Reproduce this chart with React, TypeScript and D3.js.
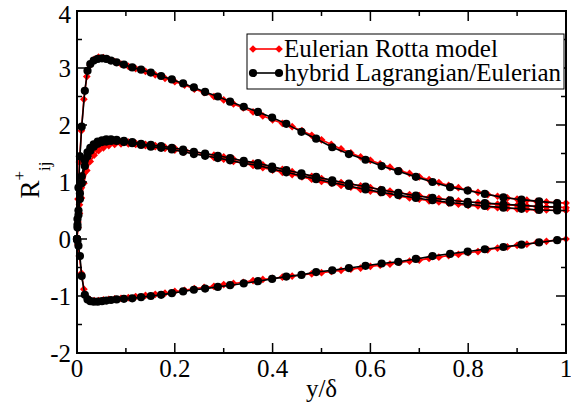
import * as d3 from "d3";

// wall-normal positions (hybrid run is on a stretched grid, Rotta model on a finer one)
const xBlack = [0, 0.001, 0.003, 0.006, 0.0096, 0.016, 0.0215, 0.0272, 0.0342, 0.0423, 0.0511, 0.0599, 0.0695, 0.081, 0.096,
  0.113, 0.131, 0.151, 0.172, 0.194, 0.217, 0.239, 0.262, 0.288, 0.313, 0.341, 0.370, 0.399, 0.428, 0.459,
  0.489, 0.522, 0.556, 0.590, 0.623, 0.657, 0.693, 0.727, 0.763, 0.799, 0.834, 0.872, 0.909, 0.945, 0.982];

const blackR11 = [0, 0.35, 0.9, 1.45, 1.97, 2.6, 2.95, 3.07, 3.13, 3.16, 3.17, 3.16, 3.13, 3.10, 3.06,
  3.01, 2.97, 2.92, 2.86, 2.80, 2.73, 2.66, 2.58, 2.50, 2.41, 2.32, 2.23, 2.13, 2.02, 1.88,
  1.76, 1.61, 1.49, 1.39, 1.28, 1.19, 1.09, 1.00, 0.91, 0.85, 0.79, 0.73, 0.69, 0.66, 0.63];
const blackR33 = [0, 0.25, 0.5, 0.8, 1.1, 1.38, 1.52, 1.60, 1.66, 1.71, 1.73, 1.75, 1.75, 1.74, 1.72,
  1.70, 1.67, 1.65, 1.63, 1.60, 1.57, 1.53, 1.50, 1.46, 1.42, 1.37, 1.33, 1.27, 1.21, 1.15,
  1.09, 1.03, 0.97, 0.92, 0.86, 0.81, 0.76, 0.72, 0.68, 0.65, 0.63, 0.61, 0.59, 0.57, 0.56];
const blackR22 = [0, 0.2, 0.42, 0.7, 0.98, 1.28, 1.45, 1.55, 1.62, 1.67, 1.70, 1.71, 1.72, 1.72, 1.70,
  1.68, 1.65, 1.62, 1.60, 1.57, 1.53, 1.49, 1.46, 1.42, 1.38, 1.33, 1.29, 1.23, 1.17, 1.11,
  1.05, 0.99, 0.93, 0.87, 0.82, 0.77, 0.72, 0.68, 0.64, 0.61, 0.58, 0.55, 0.53, 0.51, 0.50];
const blackR12 = [0, -0.03, -0.12, -0.3, -0.65, -0.98, -1.06, -1.09, -1.10, -1.10, -1.09, -1.08, -1.07, -1.06, -1.05,
  -1.04, -1.02, -1.00, -0.98, -0.95, -0.92, -0.89, -0.87, -0.84, -0.81, -0.78, -0.74, -0.70, -0.66, -0.63,
  -0.58, -0.55, -0.51, -0.47, -0.43, -0.40, -0.35, -0.30, -0.26, -0.22, -0.18, -0.14, -0.10, -0.06, -0.02];

const xRed = [0, 0.002, 0.005, 0.009, 0.014, 0.020, 0.027, 0.035, 0.044, 0.054, 0.065, 0.077, 0.090, 0.105, 0.12,
  0.14, 0.16, 0.18, 0.20, 0.22, 0.24, 0.26, 0.28, 0.30, 0.32,
  0.34, 0.36, 0.38, 0.40, 0.42, 0.44, 0.46, 0.48, 0.50, 0.52,
  0.54, 0.56, 0.58, 0.60, 0.62, 0.64, 0.66, 0.68, 0.70, 0.72,
  0.74, 0.76, 0.78, 0.80, 0.82, 0.84, 0.86, 0.88, 0.90, 0.92,
  0.94, 0.96, 0.98, 1.00];

const redR11 = [0, 0.7, 1.35, 1.9, 2.45, 2.85, 3.05, 3.15, 3.19, 3.18, 3.15, 3.11, 3.07, 3.03, 2.99,
  2.94, 2.88, 2.82, 2.76, 2.70, 2.63, 2.57, 2.50, 2.44, 2.37,
  2.30, 2.23, 2.16, 2.09, 2.03, 1.97, 1.90, 1.82, 1.74, 1.66,
  1.58, 1.51, 1.44, 1.38, 1.32, 1.26, 1.20, 1.15, 1.09, 1.04,
  0.99, 0.94, 0.90, 0.86, 0.82, 0.78, 0.75, 0.72, 0.70, 0.68,
  0.66, 0.65, 0.64, 0.63];
const redR33 = [0, 0.3, 0.6, 0.9, 1.15, 1.35, 1.48, 1.57, 1.63, 1.67, 1.70, 1.71, 1.71, 1.70, 1.68,
  1.66, 1.64, 1.61, 1.59, 1.56, 1.53, 1.50, 1.47, 1.44, 1.40,
  1.37, 1.33, 1.30, 1.26, 1.22, 1.18, 1.14, 1.10, 1.06, 1.03,
  0.99, 0.96, 0.93, 0.90, 0.87, 0.84, 0.81, 0.78, 0.76, 0.73,
  0.71, 0.69, 0.67, 0.65, 0.64, 0.62, 0.61, 0.60, 0.59, 0.58,
  0.57, 0.56, 0.56, 0.55];
const redR22 = [0, 0.2, 0.45, 0.72, 0.98, 1.2, 1.36, 1.47, 1.55, 1.60, 1.64, 1.66, 1.67, 1.67, 1.66,
  1.64, 1.62, 1.59, 1.56, 1.53, 1.50, 1.47, 1.43, 1.40, 1.36,
  1.33, 1.29, 1.25, 1.21, 1.17, 1.13, 1.09, 1.05, 1.01, 0.98,
  0.94, 0.91, 0.87, 0.84, 0.81, 0.78, 0.75, 0.72, 0.70, 0.67,
  0.65, 0.63, 0.61, 0.59, 0.58, 0.56, 0.55, 0.54, 0.53, 0.52,
  0.51, 0.51, 0.50, 0.50];
const redR12 = [0, -0.1, -0.3, -0.6, -0.88, -1.02, -1.07, -1.08, -1.08, -1.07, -1.06, -1.05, -1.04, -1.03, -1.01,
  -0.99, -0.97, -0.95, -0.92, -0.90, -0.87, -0.85, -0.83, -0.80, -0.78,
  -0.76, -0.73, -0.71, -0.69, -0.67, -0.65, -0.63, -0.61, -0.59, -0.57,
  -0.55, -0.53, -0.51, -0.48, -0.46, -0.44, -0.41, -0.39, -0.37, -0.34,
  -0.32, -0.29, -0.27, -0.24, -0.22, -0.19, -0.16, -0.14, -0.11, -0.09,
  -0.06, -0.04, -0.02, 0.00];

const xTicks = [0, 0.2, 0.4, 0.6, 0.8, 1];
const xTickLabels = ["0", "0.2", "0.4", "0.6", "0.8", "1"];
const xMinor = [0.1, 0.3, 0.5, 0.7, 0.9];
const yTicks = [-2, -1, 0, 1, 2, 3, 4];
const yTickLabels = ["-2", "-1", "0", "1", "2", "3", "4"];
const yMinor = [-1.5, -0.5, 0.5, 1.5, 2.5, 3.5];
const legendLabels = ["Eulerian Rotta model", "hybrid Lagrangian/Eulerian"];

const FONT = "'Liberation Serif', 'Times New Roman', serif";

export default function App({
  width = 571,
  height = 408,
  marginTop = 11,
  marginRight = 5,
  marginBottom = 55,
  marginLeft = 77
}) {
  const x = d3.scaleLinear([0, 1], [marginLeft, width - marginRight]);
  const y = d3.scaleLinear([-2, 4], [height - marginBottom, marginTop]);

  const line = (xs: number[]) => d3.line<number>()
    .x((_, i) => x(xs[i]))
    .y(d => y(d));

  const redSeries = [redR11, redR33, redR22, redR12];
  const blackSeries = [blackR11, blackR33, blackR22, blackR12];
  const diamond = d3.symbol(d3.symbolSquare, 30)();
  const dotR = 4.1;

  const left = x(0), right = x(1), top = y(4), bottom = y(-2);

  const legX = 247, legY = 34;

  return (
    <svg width={width} height={height} style={{ position: "absolute", left: 0, top: 0, background: "white" }}>
      {/* Rotta model */}
      {redSeries.map((s, k) => (
        <g key={"r" + k}>
          <path d={line(xRed)(s) || ""} fill="none" stroke="#ff0000" strokeWidth={1.6} />
          {s.map((d, i) => (
            <path key={i} d={diamond} fill="#ff0000"
              transform={`translate(${x(xRed[i])},${y(d)}) rotate(45)`} />
          ))}
        </g>
      ))}
      {/* hybrid run */}
      {blackSeries.map((s, k) => (
        <g key={"b" + k}>
          <path d={line(xBlack)(s) || ""} fill="none" stroke="#000" strokeWidth={1.6} />
          {s.map((d, i) => (
            <circle key={i} cx={x(xBlack[i])} cy={y(d)} r={dotR} fill="#000" />
          ))}
        </g>
      ))}

      {/* frame and ticks */}
      <rect x={left} y={top} width={right - left} height={bottom - top} fill="none" stroke="#000" strokeWidth={2} />
      <g stroke="#000" strokeWidth={1.5}>
        {xTicks.map(t => (
          <g key={"xt" + t}>
            <line x1={x(t)} x2={x(t)} y1={bottom} y2={bottom - 10} />
            <line x1={x(t)} x2={x(t)} y1={top} y2={top + 10} />
          </g>
        ))}
        {xMinor.map(t => (
          <g key={"xm" + t}>
            <line x1={x(t)} x2={x(t)} y1={bottom} y2={bottom - 5} />
            <line x1={x(t)} x2={x(t)} y1={top} y2={top + 5} />
          </g>
        ))}
        {yTicks.map(t => (
          <g key={"yt" + t}>
            <line y1={y(t)} y2={y(t)} x1={left} x2={left + 10} />
            <line y1={y(t)} y2={y(t)} x1={right} x2={right - 10} />
          </g>
        ))}
        {yMinor.map(t => (
          <g key={"ym" + t}>
            <line y1={y(t)} y2={y(t)} x1={left} x2={left + 5} />
            <line y1={y(t)} y2={y(t)} x1={right} x2={right - 5} />
          </g>
        ))}
      </g>

      <g fontFamily={FONT} fontSize={25} fill="#000">
        {xTicks.map((t, i) => (
          <text key={t} x={x(t)} y={bottom + 24} textAnchor="middle">{xTickLabels[i]}</text>
        ))}
        {yTicks.map((t, i) => (
          <text key={t} x={left - 6} y={Math.max(y(t), 14)} dy="0.35em" textAnchor="end">{yTickLabels[i]}</text>
        ))}
        <text x={(left + right) / 2} y={397} textAnchor="middle">y/δ</text>
        <text transform={`translate(39,${(top + bottom) / 2 - 2}) rotate(-90)`} textAnchor="middle">
          <tspan fontSize={27}>R</tspan>
          <tspan fontSize={17} dy={-14}>+</tspan>
          <tspan fontSize={17} dy={25}>ij</tspan>
        </text>
      </g>

      {/* legend */}
      <g fontFamily={FONT} fontSize={25}>
        <rect x={legX} y={legY} width={317} height={55} fill="white" stroke="#000" strokeWidth={1} />
        {legendLabels.map((lab, i) => {
          const cy = legY + 15 + i * 24;
          const col = i === 0 ? "#ff0000" : "#000";
          return (
            <g key={lab}>
              <line x1={legX + 6} x2={legX + 32} y1={cy} y2={cy} stroke={col} strokeWidth={1.6} />
              {i === 0
                ? [legX + 6, legX + 32].map(px => (
                  <path key={px} d={diamond} fill={col} transform={`translate(${px},${cy}) rotate(45)`} />))
                : [legX + 6, legX + 32].map(px => (
                  <circle key={px} cx={px} cy={cy} r={dotR} fill={col} />))}
              <text x={legX + 37} y={cy} dy="0.33em" fill="#000">{lab}</text>
            </g>
          );
        })}
      </g>
    </svg>
  );
}
